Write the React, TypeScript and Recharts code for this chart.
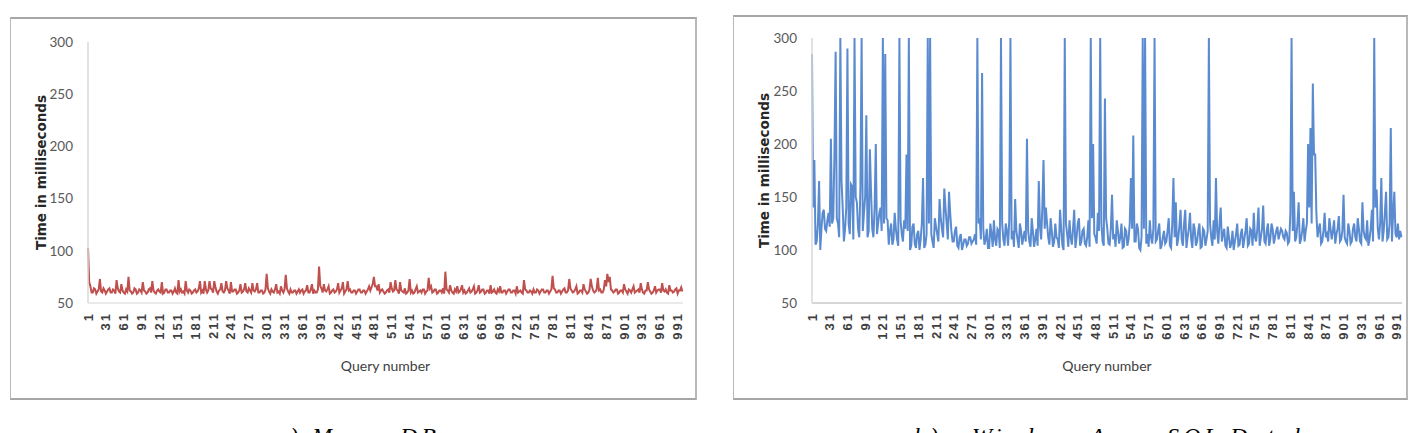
import { Label, Line, LineChart, XAxis, YAxis } from "recharts";

// x axis labels (every 30th query) and y axis ticks
const QUERY_TICKS = [
  1, 31, 61, 91, 121, 151, 181, 211, 241, 271, 301, 331, 361, 391, 421, 451, 481,
  511, 541, 571, 601, 631, 661, 691, 721, 751, 781, 811, 841, 871, 901, 931, 961, 991,
];
const TIME_TICKS = [50, 100, 150, 200, 250, 300];

// MongoDB response times, queries 1, 5, 9, ... 997
const mongoTimes = [
  103, 66, 60, 63, 61, 73, 60, 62, 61, 64,
  60, 62, 72, 61, 68, 60, 63, 75, 61, 60,
  63, 60, 62, 70, 61, 60, 64, 71, 60, 62,
  61, 70, 60, 63, 60, 62, 61, 60, 72, 63,
  61, 71, 60, 62, 60, 63, 61, 71, 62, 71,
  60, 71, 63, 71, 61, 62, 69, 60, 71, 62,
  70, 61, 63, 60, 68, 61, 69, 60, 62, 69,
  61, 69, 60, 62, 60, 78, 61, 63, 60, 68,
  61, 66, 60, 77, 61, 63, 60, 62, 61, 60,
  63, 61, 67, 60, 68, 62, 60, 85, 64, 68,
  61, 66, 60, 63, 61, 69, 62, 70, 61, 71,
  63, 60, 62, 61, 63, 60, 62, 61, 66, 65,
  75, 66, 68, 62, 61, 60, 63, 70, 61, 72,
  62, 70, 61, 64, 60, 73, 62, 60, 66, 61,
  60, 63, 61, 74, 66, 61, 63, 60, 62, 64,
  80, 62, 67, 60, 63, 66, 61, 67, 62, 60,
  64, 61, 66, 60, 67, 61, 63, 60, 62, 67,
  61, 60, 63, 66, 60, 62, 61, 63, 60, 62,
  66, 61, 60, 72, 62, 60, 61, 63, 60, 62,
  61, 63, 60, 62, 61, 76, 63, 60, 62, 61,
  64, 60, 73, 62, 61, 66, 60, 62, 68, 61,
  60, 73, 62, 61, 74, 63, 60, 72, 78, 75,
  62, 61, 63, 60, 62, 68, 61, 63, 60, 66,
  61, 63, 69, 60, 62, 70, 61, 60, 66, 62,
  63, 69, 61, 60, 67, 62, 61, 64, 62, 65,
];

// MongoDB, the queries in between: 3, 7, 11, ... 999
const mongoTimesOdd = [
  70, 60, 64, 59, 63, 61, 64, 59, 63, 60,
  63, 59, 64, 60, 62, 59, 61, 62, 59, 64,
  59, 63, 60, 62, 59, 63, 60, 62, 59, 63,
  60, 59, 63, 60, 62, 59, 64, 59, 61, 60,
  59, 62, 63, 59, 62, 60, 64, 60, 59, 63,
  62, 64, 60, 65, 59, 63, 61, 62, 64, 59,
  61, 63, 59, 62, 60, 63, 61, 64, 60, 62,
  63, 60, 62, 59, 63, 64, 59, 61, 63, 60,
  59, 62, 63, 64, 59, 60, 62, 59, 63, 62,
  59, 62, 60, 63, 59, 60, 63, 66, 60, 62,
  63, 59, 62, 60, 63, 60, 64, 59, 63, 62,
  60, 62, 59, 63, 60, 62, 59, 63, 62, 68,
  66, 62, 60, 63, 59, 62, 60, 64, 62, 63,
  59, 62, 60, 59, 62, 60, 59, 63, 60, 62,
  63, 59, 62, 64, 60, 63, 59, 62, 60, 59,
  63, 60, 62, 59, 61, 60, 63, 60, 59, 62,
  60, 63, 59, 62, 60, 63, 59, 62, 59, 60,
  63, 59, 61, 60, 62, 59, 63, 60, 62, 59,
  60, 62, 59, 63, 60, 62, 59, 60, 63, 59,
  63, 60, 62, 59, 63, 64, 60, 62, 59, 63,
  60, 62, 64, 60, 63, 59, 62, 60, 63, 59,
  63, 66, 60, 63, 62, 60, 63, 66, 70, 63,
  60, 63, 59, 62, 60, 63, 59, 62, 63, 60,
  62, 60, 63, 59, 62, 63, 59, 62, 60, 63,
  60, 62, 63, 59, 62, 60, 63, 59, 62, 61,
];

// Windows Azure SQL Database, queries 1, 5, 9, ... 997 (300 = off the top)
const azureTimes = [
  285, 185, 108, 165, 120, 138, 118, 135, 205, 130,
  287, 125, 300, 140, 120, 290, 115, 160, 300, 145,
  112, 300, 135, 227, 118, 155, 112, 200, 125, 140,
  300, 285, 128, 118, 105, 135, 110, 300, 115, 128,
  190, 300, 104, 125, 102, 118, 110, 168, 105, 300,
  300, 108, 130, 115, 148, 120, 158, 125, 155, 118,
  108, 122, 102, 115, 105, 110, 106, 112, 108, 115,
  300, 130, 267, 105, 120, 102, 115, 128, 104, 118,
  300, 110, 125, 104, 300, 118, 148, 110, 125, 105,
  118, 205, 108, 130, 103, 120, 165, 110, 185, 140,
  112, 130, 103, 125, 110, 138, 104, 300, 115, 128,
  105, 138, 112, 130, 108, 120, 104, 128, 300, 200,
  112, 135, 300, 108, 243, 120, 105, 152, 115, 128,
  106, 125, 103, 118, 110, 168, 208, 108, 120, 100,
  300, 300, 115, 128, 106, 300, 110, 125, 104, 118,
  108, 130, 102, 168, 145, 110, 138, 104, 138, 112,
  135, 102, 120, 108, 125, 103, 118, 110, 300, 112,
  128, 168, 106, 140, 115, 104, 122, 102, 118, 108,
  125, 105, 120, 110, 130, 106, 118, 135, 108, 140,
  112, 142, 106, 125, 110, 120, 112, 122, 115, 118,
  110, 116, 108, 300, 155, 112, 145, 110, 130, 118,
  200, 215, 257, 190, 112, 125, 108, 135, 115, 130,
  110, 128, 115, 132, 110, 152, 108, 125, 106, 120,
  112, 130, 108, 145, 112, 128, 110, 138, 300, 157,
  110, 168, 118, 155, 112, 215, 135, 115, 125, 118,
];

// Windows Azure SQL Database, queries 3, 7, 11, ... 999
const azureTimesOdd = [
  140, 105, 125, 100, 135, 120, 128, 122, 125, 190,
  130, 112, 165, 108, 140, 125, 162, 110, 150, 120,
  160, 118, 150, 112, 195, 120, 140, 115, 135, 118,
  125, 130, 105, 125, 110, 120, 104, 128, 108, 120,
  118, 100, 122, 106, 115, 100, 125, 102, 115, 125,
  115, 102, 122, 108, 130, 112, 140, 110, 135, 108,
  118, 104, 112, 100, 110, 104, 112, 106, 110, 105,
  125, 110, 120, 110, 102, 125, 103, 110, 120, 102,
  125, 104, 118, 128, 110, 103, 118, 102, 118, 112,
  108, 118, 103, 118, 110, 104, 122, 140, 120, 125,
  105, 118, 108, 112, 102, 120, 100, 125, 103, 112,
  120, 102, 125, 104, 118, 106, 112, 103, 130, 115,
  106, 118, 125, 104, 130, 106, 120, 110, 103, 118,
  112, 102, 120, 104, 125, 120, 108, 125, 102, 112,
  120, 106, 103, 112, 120, 108, 118, 101, 112, 106,
  118, 104, 125, 112, 104, 122, 110, 125, 102, 120,
  110, 125, 104, 118, 102, 120, 104, 118, 125, 104,
  110, 118, 125, 108, 120, 102, 112, 106, 100, 115,
  104, 115, 102, 118, 104, 120, 104, 112, 120, 104,
  120, 108, 118, 104, 125, 106, 118, 110, 120, 112,
  118, 106, 135, 118, 108, 125, 106, 118, 108, 125,
  140, 125, 190, 135, 120, 106, 118, 112, 108, 120,
  118, 106, 120, 108, 118, 112, 106, 118, 108, 125,
  108, 120, 106, 118, 110, 104, 120, 108, 140, 120,
  125, 108, 135, 110, 125, 108, 155, 112, 110, 112,
];

const toRows = (even: number[], odd: number[]) =>
  even.flatMap((time, i) => [
    { query: 1 + i * 4, time },
    { query: 3 + i * 4, time: odd[i] },
  ]);

const mongoData = toRows(mongoTimes, mongoTimesOdd);
const azureData = toRows(azureTimes, azureTimesOdd);

const QueryTick = (props: any) => {
  const { x, y, payload } = props;
  return (
    <text
      x={x}
      y={y}
      dy="0.35em"
      transform={`rotate(-90 ${x} ${y})`}
      textAnchor="end"
      fill="#404040"
      fontSize={13}
      fontWeight={700}
      letterSpacing={2}
      fontFamily="'Liberation Sans', Arial, sans-serif"
    >
      {payload.value}
    </text>
  );
};

type PanelProps = {
  left: number;
  top: number;
  width: number;
  height: number;
  plotLeft: number;
  plotTop: number;
  plotRight: number;
  data: { query: number; time: number }[];
  color: string;
  axisColor: string;
};

function Panel({ left, top, width, height, plotLeft, plotTop, plotRight, data, color, axisColor }: PanelProps) {
  const xAxisHeight = 97;
  const plotMidX = (plotLeft + width - plotRight) / 2;
  const plotMidY = (plotTop + height - xAxisHeight) / 2;
  return (
    <>
      <div
        style={{
          position: "absolute",
          left,
          top,
          width,
          height,
          boxSizing: "border-box",
          borderTop: "2px solid #a6a6a6",
          borderBottom: "2px solid #a6a6a6",
          borderLeft: "1px solid #b8b8b8",
          borderRight: "2px solid #b8b8b8",
        }}
      />
      <div style={{ position: "absolute", left, top }}>
        <LineChart
          width={width}
          height={height}
          data={data}
          margin={{ top: plotTop, right: plotRight, bottom: 0, left: 0 }}
        >
          <XAxis
            dataKey="query"
            type="number"
            domain={[1, 1000]}
            ticks={QUERY_TICKS}
            interval={0}
            height={xAxisHeight}
            tickLine={false}
            tickSize={0}
            tickMargin={9}
            axisLine={{ stroke: axisColor, strokeWidth: 1.5 }}
            tick={<QueryTick />}
          >
            <Label
              content={() => (
                <text
                  x={plotMidX}
                  y={height - 35}
                  textAnchor="middle"
                  dominantBaseline="central"
                  fill="#404040"
                  fontSize={14}
                  fontFamily="Lato, sans-serif"
                >
                  Query number
                </text>
              )}
            />
          </XAxis>
          <YAxis
            type="number"
            domain={[50, 300]}
            ticks={TIME_TICKS}
            allowDataOverflow
            width={plotLeft}
            tickLine={false}
            tickSize={0}
            tickMargin={15}
            axisLine={{ stroke: "#d9d9d9", strokeWidth: 1.5 }}
            tick={{ fill: "#595959", fontSize: 13.5, fontFamily: "Lato, sans-serif" }}
          >
            <Label
              content={() => (
                <text
                  x={31}
                  y={plotMidY}
                  transform={`rotate(-90 31 ${plotMidY})`}
                  textAnchor="middle"
                  dominantBaseline="central"
                  fill="#262626"
                  fontSize={13.5}
                  fontWeight={700}
                  fontFamily="'DejaVu Sans', sans-serif"
                >
                  Time in milliseconds
                </text>
              )}
            />
          </YAxis>
          <Line
            type="linear"
            dataKey="time"
            stroke={color}
            strokeWidth={2}
            dot={false}
            activeDot={false}
            isAnimationActive={false}
          />
        </LineChart>
      </div>
    </>
  );
}

const captionStyle: React.CSSProperties = {
  position: "absolute",
  top: 424,
  fontFamily: "'Liberation Serif', 'Times New Roman', serif",
  fontStyle: "italic",
  fontSize: 24,
  lineHeight: "24px",
  letterSpacing: 4,
  whiteSpace: "pre",
  color: "#000",
};

// caption words, each placed where it sits under its chart
const captionWords: [string, number][] = [
  ["a)", 274],
  ["MongoDB", 312],
  ["b)", 914],
  ["Windows", 972],
  ["Azure", 1090],
  ["SQL", 1167],
  ["Database", 1230],
];

export default function App() {
  return (
    <div
      style={{
        position: "fixed",
        left: 0,
        top: 0,
        width: 1421,
        height: 433,
        overflow: "hidden",
        background: "#fff",
      }}
    >
      <Panel
        left={10}
        top={17}
        width={687}
        height={383}
        plotLeft={78}
        plotTop={25}
        plotRight={14}
        data={mongoData}
        color="#C0504D"
        axisColor="#e3e3e3"
      />
      <Panel
        left={733}
        top={15}
        width={675}
        height={385}
        plotLeft={79}
        plotTop={23}
        plotRight={6}
        data={azureData}
        color="#5A8BD0"
        axisColor="#c8c8c8"
      />
      {captionWords.map(([word, x]) => (
        <div key={word} style={{ ...captionStyle, left: x }}>
          {word}
        </div>
      ))}
    </div>
  );
}
